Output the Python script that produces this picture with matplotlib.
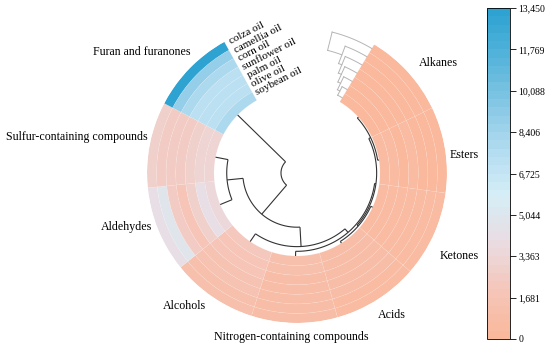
import numpy as np
import matplotlib
matplotlib.use("Agg")
import matplotlib.pyplot as plt
from matplotlib.colors import LinearSegmentedColormap, Normalize

plt.rcParams["font.family"] = ["Liberation Serif", "DejaVu Serif"]

# ---------------- data ----------------
compounds = ["Alkanes", "Esters", "Ketones", "Acids",
             "Nitrogen-containing compounds", "Alcohols", "Aldehydes",
             "Sulfur-containing compounds", "Furan and furanones"]
oils = ["colza oil", "camellia oil", "corn oil", "sunflower oil",
        "palm oil", "olive oil", "soybean oil"]

alkanes = [150, 180, 160, 170, 200, 190, 210]
esters = [300, 280, 320, 350, 330, 340, 360]
ketones = [450, 420, 480, 500, 470, 520, 540]
acids = [600, 650, 700, 750, 800, 850, 900]
nitrogen = [900, 850, 950, 1000, 900, 1050, 1100]
alcohols = [1300, 1200, 1400, 1500, 1800, 2000, 2300]
aldehydes = [4300, 5000, 2500, 2000, 2900, 4100, 3600]
sulfur = [2700, 2500, 2400, 2600, 2800, 3100, 3300]
furan = [13450, 8800, 8000, 7300, 7200, 7300, 7800]
values = [alkanes, esters, ketones, acids, nitrogen, alcohols, aldehydes, sulfur, furan]

vmin, vmax = 0, 13450
cbar_ticks = np.linspace(vmin, vmax, 9)

# row dendrogram merges (leaf indices 0..8, new nodes 9..), height
row_merges = [(1, 0, 0.02), (3, 2, 0.03), (10, 9, 0.05), (4, 11, 0.07),
              (5, 12, 0.14), (6, 7, 0.19), (13, 14, 0.43), (15, 8, 1.0)]
# column dendrogram merges (leaf indices 0..6 = oils)
col_merges = [(5, 6, 0.2), (4, 7, 0.3), (3, 8, 0.4), (2, 9, 0.5),
              (1, 10, 0.6), (0, 11, 1.0)]

# ---------------- style / geometry ----------------
colors = ["#FAB89C", "#F5C6BA", "#EADCE2", "#D6EEF6", "#B3DCF1",
          "#85C7E5", "#55B4DB", "#2EA3D2"]
cmap = LinearSegmentedColormap.from_list("c", list(zip(np.linspace(0, 1, 8), colors)), N=40)
norm = Normalize(vmin, vmax)

R_OUT, R_IN = 150.0, 83.0
start_deg, end_deg = 31.0, 331.0
n = len(compounds)
sec_w = (end_deg - start_deg) / n
trk_w = (R_OUT - R_IN) / len(oils)

# label placement (angle in degrees, radius in px, alignment)
label_pos = [(48.0, 164, "left"), (83.3, 154, "left"), (120.4, 165, "left"),
             (150.3, 164, "left"), (182.1, 164, "center"), (214.4, 161, "right"),
             (249.6, 155, "right"), (283.5, 154, "right"), (318.5, 161, "right")]

W, H = 550, 348
fig = plt.figure(figsize=(W / 100, H / 100), dpi=100)
cx, cy = 297, 173
ax = fig.add_axes([(cx - R_OUT) / W, (H - cy - R_OUT) / H, 2 * R_OUT / W, 2 * R_OUT / H],
                  projection="polar")
ax.set_theta_zero_location("N")
ax.set_theta_direction(-1)
ax.set_ylim(0, R_OUT)
ax.axis("off")

# heatmap cells
for i, comp in enumerate(compounds):
    th = np.deg2rad(start_deg + (i + 0.5) * sec_w)
    for j, oil in enumerate(oils):
        bottom = R_OUT - (j + 1) * trk_w
        ax.bar(th, trk_w, width=np.deg2rad(sec_w), bottom=bottom,
               color=cmap(norm(values[i][j])), edgecolor=(1, 1, 1, 0.15),
               linewidth=0.4)

# sector labels
for comp, (d, r, ha) in zip(compounds, label_pos):
    ax.text(np.deg2rad(d), r, comp, ha=ha, va="center", fontsize=8.6,
            clip_on=False)

# oil labels in the gap after last sector
lab_deg = end_deg + 2.0
for j, oil in enumerate(oils):
    r = R_OUT - (j + 0.5) * trk_w + 2
    ax.text(np.deg2rad(lab_deg), r, oil, rotation=360 - lab_deg, rotation_mode="anchor",
            ha="left", va="center", fontsize=8, clip_on=False)


def draw_dendro(merges, leaf_pos, line, nleaf):
    pos = dict(enumerate(leaf_pos))
    hts = {k: 0.0 for k in range(nleaf)}
    for k, (a, b, h) in enumerate(merges):
        node = nleaf + k
        line(pos[a], hts[a], pos[a], h)
        line(pos[b], hts[b], pos[b], h)
        line(pos[a], h, pos[b], h)
        pos[node] = (pos[a] + pos[b]) / 2
        hts[node] = h


# row dendrogram (inside)
ROW_SCALE = 67.0


def row_line(p1, h1, p2, h2):
    r1, r2 = R_IN - ROW_SCALE * h1, R_IN - ROW_SCALE * h2
    t = np.deg2rad(np.linspace(p1, p2, 60))
    rr = np.linspace(r1, r2, 60)
    ax.plot(t, rr, color="#333333", lw=0.8, solid_capstyle="butt")


draw_dendro(row_merges, [start_deg + (i + 0.5) * sec_w for i in range(n)], row_line, n)

# column dendrogram (in gap, before first sector)
COL_SCALE = 17.0


def col_line(p1, h1, p2, h2):
    a1, a2 = start_deg - COL_SCALE * h1, start_deg - COL_SCALE * h2
    t = np.deg2rad(np.linspace(a1, a2, 30))
    rr = np.linspace(p1, p2, 30)
    ax.plot(t, rr, color="#B5B5B5", lw=0.7, clip_on=False)


draw_dendro(col_merges, [R_OUT - (j + 0.5) * trk_w for j in range(len(oils))],
            col_line, len(oils))

# colorbar
cax = fig.add_axes([487 / W, (H - 339) / H, 23 / W, 331 / H])
sm = plt.cm.ScalarMappable(norm=norm, cmap=cmap)
cb = fig.colorbar(sm, cax=cax, ticks=cbar_ticks)
cb.ax.set_yticklabels(["{:,}".format(int(v + 0.5)) for v in cbar_ticks], fontsize=7)
cb.outline.set_linewidth(0.6)
cb.ax.tick_params(length=4, width=0.6, pad=2)

fig.savefig("out.png", dpi=100)
